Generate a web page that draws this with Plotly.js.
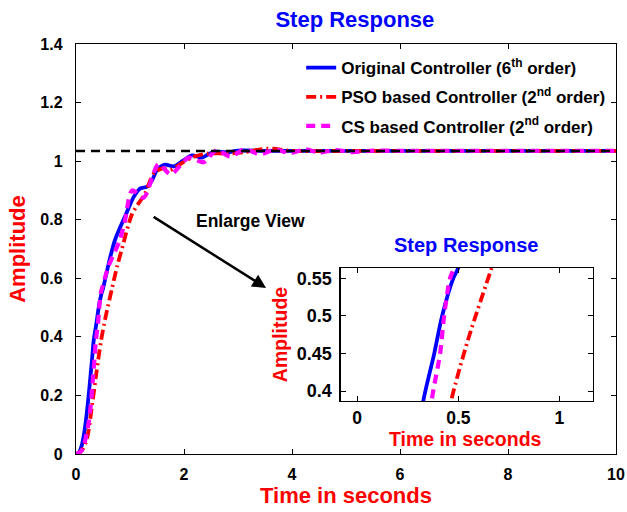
<!DOCTYPE html>
<html>
<head>
<meta charset="utf-8">
<script src="https://cdn.plot.ly/plotly-3.0.1.min.js"></script>
<style>html,body{margin:0;padding:0;background:#fff;}#chart{width:627px;height:512px;}</style>
</head>
<body>
<div id="chart"></div>
<script>
// ---- data ----
const seriesNames = [
  'Original Controller (6<sup>th</sup> order)',
  'PSO based Controller (2<sup>nd</sup> order)',
  'CS based Controller (2<sup>nd</sup> order)'
];
const tOriginal = [0, 0.05, 0.1, 0.15, 0.2, 0.25, 0.3, 0.327, 0.381, 0.42, 0.475, 0.5, 0.58, 0.667, 0.73, 0.82, 0.94, 1.07, 1.19, 1.31, 1.41, 1.5, 1.65, 1.81, 1.99, 2.15, 2.33, 2.55, 2.8, 3.0, 3.5, 4, 5, 6, 7, 8, 9, 10];
const yOriginal = [0, 0.004, 0.025, 0.07, 0.14, 0.23, 0.33, 0.387, 0.45, 0.50, 0.55, 0.564, 0.63, 0.696, 0.735, 0.775, 0.825, 0.878, 0.907, 0.912, 0.935, 0.97, 0.988, 0.982, 1.003, 1.02, 1.012, 1.032, 1.03, 1.036, 1.035, 1.035, 1.035, 1.035, 1.035, 1.035, 1.035, 1.035];

const tPSO = [0, 0.1, 0.2, 0.3, 0.38, 0.464, 0.55, 0.665, 0.76, 0.85, 1.04, 1.28, 1.44, 1.6, 1.75, 1.93, 2.18, 2.43, 2.8, 3.1, 3.54, 4, 5, 6, 7, 8, 9, 10];
const yPSO = [0, 0.01, 0.05, 0.17, 0.28, 0.387, 0.47, 0.564, 0.64, 0.70, 0.82, 0.89, 0.958, 0.975, 0.97, 0.99, 1.015, 1.026, 1.026, 1.03, 1.043, 1.035, 1.035, 1.035, 1.035, 1.035, 1.035, 1.035];

const tCS = [0, 0.1, 0.233, 0.326, 0.368, 0.41, 0.43, 0.459, 0.48, 0.6, 0.81, 0.91, 1.04, 1.25, 1.53, 1.75, 2.09, 2.36, 2.6, 2.86, 3.12, 3.41, 3.7, 3.95, 4.25, 4.5, 4.8, 5.1, 5.5, 6, 7, 8, 9, 10];
const yCS = [0, 0.01, 0.105, 0.287, 0.387, 0.45, 0.5, 0.55, 0.564, 0.64, 0.73, 0.80, 0.90, 0.875, 0.99, 0.955, 1.012, 0.996, 1.037, 1.016, 1.04, 1.024, 1.04, 1.027, 1.04, 1.029, 1.038, 1.031, 1.036, 1.035, 1.035, 1.035, 1.035, 1.035];

const tFinal = [0, 10];
const yFinal = [1.035, 1.035];

const mainXTicks = [0, 2, 4, 6, 8, 10];
const mainYTicks = [0, 0.2, 0.4, 0.6, 0.8, 1, 1.2, 1.4];
const insetXTicks = [0, 0.5, 1];
const insetXLabels = ['0', '0.5', '1'];
const insetYTicks = [0.4, 0.45, 0.5, 0.55];
const insetYLabels = ['0.4', '0.45', '0.5', '0.55'];

// ---- styling ----
const FONT = 'Liberation Sans, Arial, Helvetica, sans-serif';
const styles = [
  {color: '#0000ff', width: 3.8, dash: 'solid'},
  {color: '#ff0000', width: 3.8, dash: '10px,4px,2px,4px'},
  {color: '#ff00ff', width: 4.2, dash: '9px,6px'}
];
const data = [[tOriginal, yOriginal], [tPSO, yPSO], [tCS, yCS]];

const traces = [];
data.forEach((d, i) => {
  traces.push({x: d[0], y: d[1], type: 'scatter', mode: 'lines', name: seriesNames[i], legendgroup: 'g' + i,
    line: Object.assign({shape: 'spline', smoothing: 0.8}, styles[i]), xaxis: 'x', yaxis: 'y'});
});
traces.push({x: tFinal, y: yFinal, type: 'scatter', mode: 'lines', showlegend: false,
  line: {color: '#000', width: 2.5, dash: '9px,6px'}, xaxis: 'x', yaxis: 'y'});
data.forEach((d, i) => {
  traces.push({x: d[0], y: d[1], type: 'scatter', mode: 'lines', showlegend: false, legendgroup: 'g' + i,
    line: Object.assign({shape: 'spline', smoothing: 0.8}, styles[i]), xaxis: 'x2', yaxis: 'y2'});
});

const axisCommon = {showgrid: false, zeroline: false, showline: true, linecolor: '#000', linewidth: 1.2,
  ticks: 'inside', ticklen: 5, tickcolor: '#000', mirror: 'ticks'};
const bold = (size, color) => ({family: FONT, size: size, color: color, weight: 700});

const layout = {
  width: 627, height: 512,
  margin: {l: 76, r: 11, t: 44, b: 58},
  paper_bgcolor: '#fff', plot_bgcolor: '#fff',
  showlegend: true,
  title: {text: 'Step Response', font: bold(22, '#0000ff'),
    x: 0.566, xanchor: 'center', y: 0.962, yanchor: 'middle'},
  xaxis: Object.assign({}, axisCommon, {range: [0, 10], tickvals: mainXTicks, domain: [0, 1], anchor: 'y',
    tickfont: bold(16, '#000'), ticklabelstandoff: 6,
    title: {text: 'Time in seconds', font: bold(22, '#ff0000'), standoff: 5}}),
  yaxis: Object.assign({}, axisCommon, {range: [0, 1.4], tickvals: mainYTicks, domain: [0, 1], anchor: 'x',
    tickfont: bold(16, '#000'), ticklabelstandoff: 9,
    title: {text: 'Amplitude', font: bold(22, '#ff0000'), standoff: 8}}),
  xaxis2: Object.assign({}, axisCommon, {range: [-0.082, 1.165], tickvals: insetXTicks, ticktext: insetXLabels,
    domain: [0.490, 0.957], anchor: 'y2', tickfont: bold(17.5, '#000'), ticklabelstandoff: 1}),
  yaxis2: Object.assign({}, axisCommon, {range: [0.3867, 0.564], tickvals: insetYTicks, ticktext: insetYLabels,
    domain: [0.129, 0.454], anchor: 'x2', tickfont: bold(18, '#000'), ticklabelstandoff: 4,
    title: {text: 'Amplitude', font: bold(19.5, '#ff0000'), standoff: 4}}),
  legend: {x: 0.417, xanchor: 'left', y: 0.985, yanchor: 'top', bgcolor: 'rgba(255,255,255,0)', borderwidth: 0,
    tracegroupgap: 4, font: bold(17, '#000')},
  annotations: [
    {xref: 'x', yref: 'y', axref: 'x', ayref: 'y', x: 3.52, y: 0.567, ax: 1.41, ay: 0.813,
      showarrow: true, arrowhead: 2, arrowsize: 1.1, arrowwidth: 2.5, arrowcolor: '#000', text: ''},
    {xref: 'x', yref: 'y', x: 3.23, y: 0.795, xanchor: 'center', yanchor: 'middle', showarrow: false, text: 'Enlarge View',
      font: bold(17.5, '#000')},
    {xref: 'paper', yref: 'paper', x: 0.722, y: 0.51, xanchor: 'center', yanchor: 'middle', showarrow: false,
      text: 'Step Response', font: bold(20, '#0000ff')},
    {xref: 'paper', yref: 'paper', x: 0.722, y: 0.036, xanchor: 'center', yanchor: 'middle', showarrow: false,
      text: 'Time in seconds', font: bold(19.5, '#ff0000')}
  ]
};

Plotly.newPlot('chart', traces, layout, {displayModeBar: false, staticPlot: true});
</script>
</body>
</html>
